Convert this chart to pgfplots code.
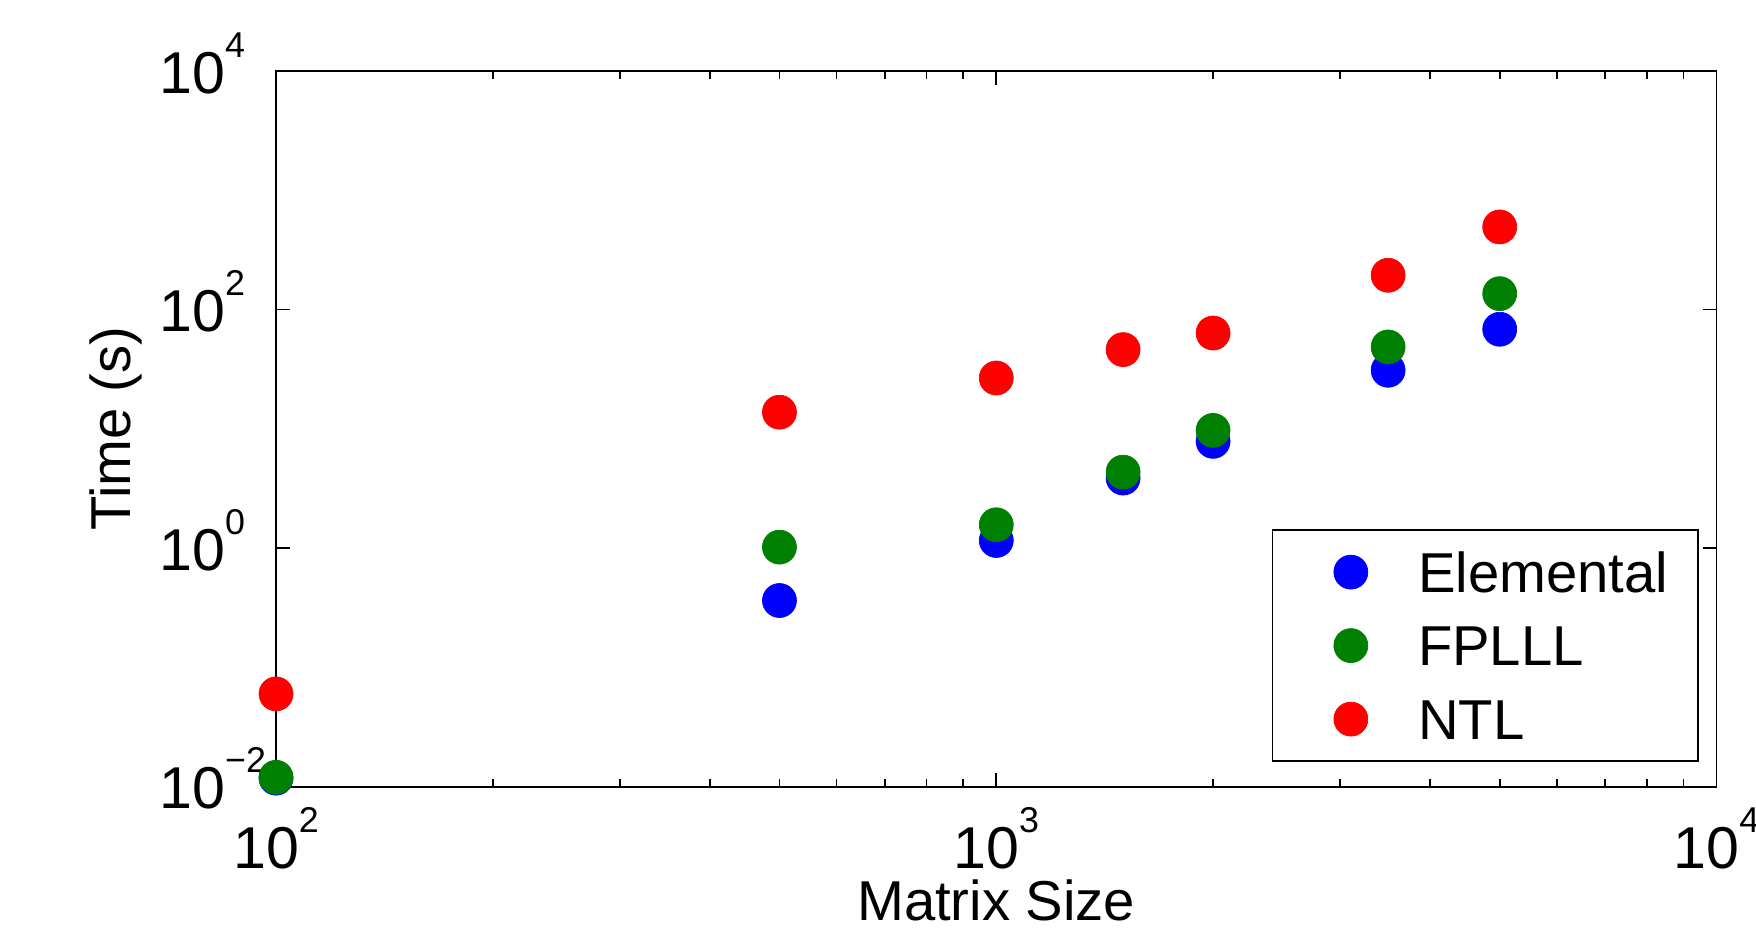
\documentclass[border=0pt]{standalone}
\usepackage{pgfplots}
\pgfplotsset{compat=1.18}
\usepackage{fontspec}
\setmainfont{Liberation Sans}

\definecolor{mblue}{rgb}{0,0,1}
\definecolor{mgreen}{rgb}{0,0.5,0}
\definecolor{mred}{rgb}{1,0,0}

% 10^k labels in the text font, matlab style
\newcommand{\tpow}[1]{10\raisebox{3.6mm}{\fontsize{10.2}{12}\selectfont #1}}
\newcommand{\ypow}[1]{10\rlap{\raisebox{3.6mm}{\fontsize{10.2}{12}\selectfont #1}}}

\begin{document}
\begin{tikzpicture}
\useasboundingbox (-27.6mm,-14.43mm) rectangle (148.0mm,78.67mm);
\begin{axis}[
    at={(0,0)}, anchor=south west,
    scale only axis, width=144.05mm, height=71.57mm,
    xmode=log, ymode=log,
    xmin=100, xmax=10000, ymin=0.01, ymax=10000,
    font=\fontsize{16}{19}\selectfont,
    line width=0.5pt,
    clip=false,
    xtick={100,1000,10000}, xticklabels={\tpow{2},\tpow{3},\tpow{4}},
    ytick={0.01,1,100,10000}, yticklabels={\ypow{−2},\ypow{0},\ypow{2},\ypow{4}},
    minor xtick={200,300,400,500,600,700,800,900,2000,3000,4000,5000,6000,7000,8000,9000},
    yminorticks=false,
    major tick length=1.4mm, minor tick length=0.75mm,
    tick style={black, line width=0.5pt},
    ticklabel style={font=\fontsize{16.8}{19}\selectfont},
    xticklabel style={anchor=base, inner sep=0pt, yshift=-8.16mm},
    yticklabel style={anchor=base east, inner sep=0pt, xshift=-5.0mm, yshift=-2.2mm},
    xlabel={Matrix Size}, ylabel={Time (s)},
    xlabel style={at={(axis description cs:0.5,-0.1872)}, anchor=base},
    ylabel style={at={(axis description cs:-0.1007,0.5)}, anchor=base},
    legend cell align=left,
    legend image code/.code={
        \path[draw=none, fill=none] (0mm,-2.015mm) rectangle (6.6mm,2.015mm);
        \draw[#1] plot coordinates {(4.85mm,0mm)};
    },
    legend style={at={(rel axis cs:0.6912,0.360)}, anchor=north west,
        draw=black, line width=0.5pt,
        inner xsep=2.98mm, inner ysep=2.2mm,
        row sep=3.32mm, column sep=4.97mm,
        nodes={inner sep=0pt, text height=4.03mm, text depth=0pt}},
]
\addplot[mblue, only marks, mark=*, mark size=1.7mm, mark options={line width=0.2pt}]
    coordinates {(100,0.0118) (500,0.364) (1000,1.16) (1500,3.87) (2000,7.86) (3500,31.0) (5000,68.4)};
\addlegendentry{Elemental}
\addplot[mgreen, only marks, mark=*, mark size=1.7mm, mark options={line width=0.2pt}]
    coordinates {(100,0.0120) (500,1.02) (1000,1.57) (1500,4.34) (2000,9.71) (3500,48.6) (5000,136)};
\addlegendentry{FPLLL}
\addplot[mred, only marks, mark=*, mark size=1.7mm, mark options={line width=0.2pt}]
    coordinates {(100,0.060) (500,13.8) (1000,26.7) (1500,46.2) (2000,63.6) (3500,194) (5000,493)};
\addlegendentry{NTL}
\end{axis}
\end{tikzpicture}
\end{document}
